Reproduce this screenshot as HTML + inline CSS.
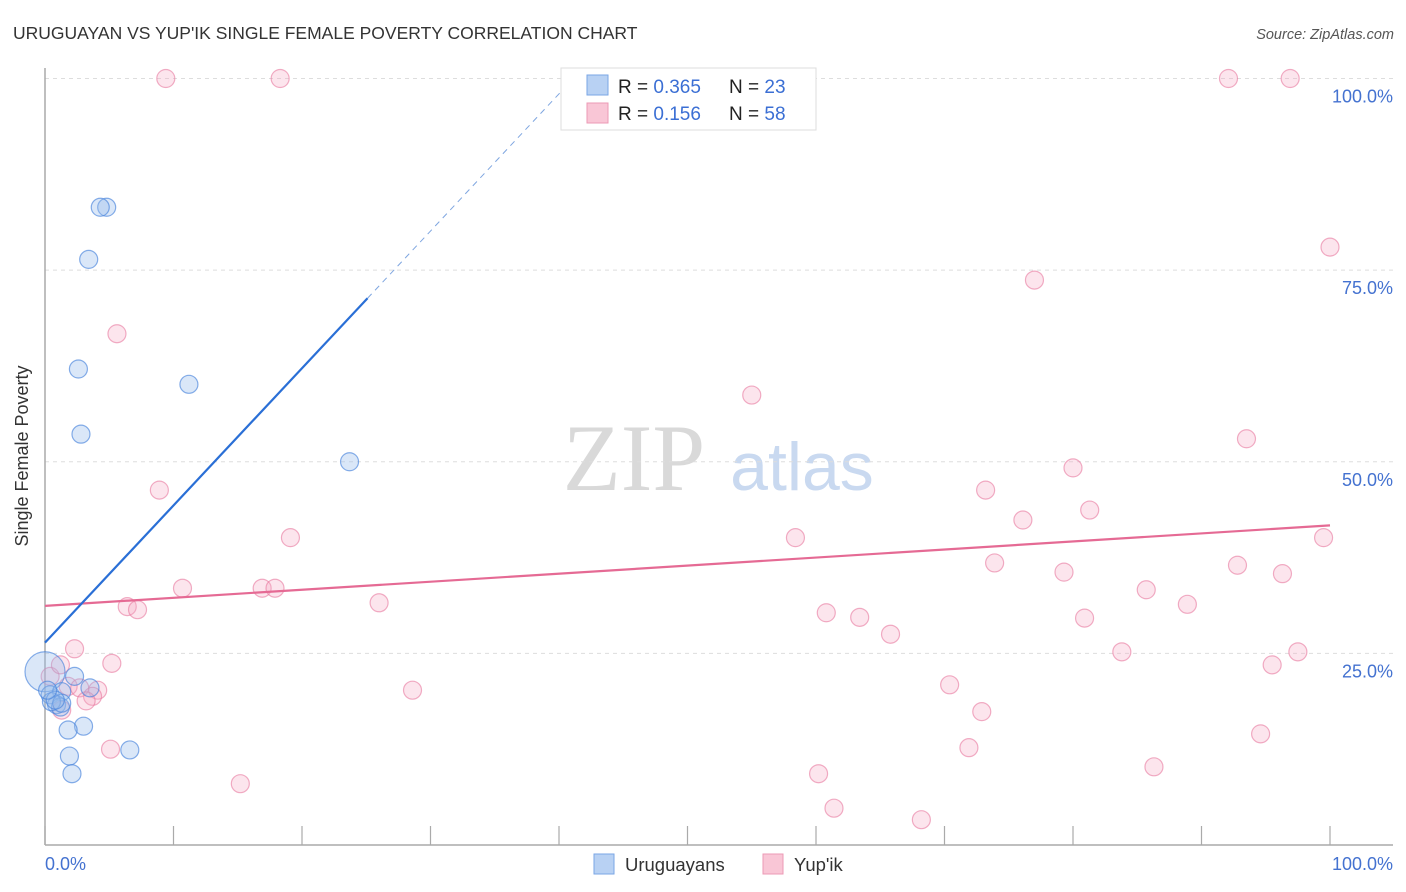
<!DOCTYPE html>
<html><head><meta charset="utf-8"><style>
body{margin:0;background:#fff;font-family:"Liberation Sans",sans-serif}
svg{display:block}
</style></head><body>
<svg id="chart" width="1406" height="892" font-family="Liberation Sans, sans-serif">
<text x="13" y="39" font-size="17.5" fill="#333">URUGUAYAN VS YUP'IK SINGLE FEMALE POVERTY CORRELATION CHART</text>
<text x="1394" y="39" font-size="14.5" fill="#555" font-style="italic" text-anchor="end">Source: ZipAtlas.com</text>
<text x="28" y="456" font-size="18" fill="#333" text-anchor="middle" transform="rotate(-90 28 456)">Single Female Poverty</text>
<g>
<text x="634" y="490" font-size="95" font-family="Liberation Serif, serif" fill="#d9d9d9" text-anchor="middle">ZIP</text>
<text x="802" y="490" font-size="68" fill="#c9d9f0" text-anchor="middle">atlas</text>
</g>
<g id="grid"></g>
<g id="axes"></g>
<g id="marks"></g>
<g>
<rect x="561" y="68" width="255" height="62" fill="#fff" stroke="#ddd"/>
<rect x="587" y="75" width="21" height="20" fill="#b8d1f3" stroke="#7aa6e6"/>
<rect x="587" y="103" width="21" height="20" fill="#f9c6d6" stroke="#ec9ab5"/>
<text x="618" y="93" font-size="19" fill="#222">R = <tspan fill="#3b6fd4">0.365</tspan></text>
<text x="729" y="93" font-size="19" fill="#222">N = <tspan fill="#3b6fd4">23</tspan></text>
<text x="618" y="120" font-size="19" fill="#222">R = <tspan fill="#3b6fd4"> 0.156</tspan></text>
<text x="729" y="120" font-size="19" fill="#222">N = <tspan fill="#3b6fd4">58</tspan></text>
</g>
<g>
<rect x="594" y="854" width="20" height="20" fill="#b8d1f3" stroke="#7aa6e6"/>
<text x="625" y="871" font-size="18.5" fill="#333">Uruguayans</text>
<rect x="763" y="854" width="20" height="20" fill="#f9c6d6" stroke="#ec9ab5"/>
<text x="794" y="871" font-size="18.5" fill="#333">Yup'ik</text>
</g>
</svg>
<script>
const blueX=[4.8,4.3,3.4,2.6,2.8,11.2,23.7,0,2.3,3.5,0.4,1.3,0.9,1.2,0.5,1.3,3.0,1.8,1.9,6.6,2.1,0.8,0.2];
const blueY=[83.2,83.2,76.4,62.1,53.6,60.1,50.0,22.6,22.0,20.5,19.6,20.0,18.3,18.0,18.7,18.5,15.5,15.0,11.6,12.4,9.3,18.9,20.2];
const blueR=[9,9,9,9,9,9,9,20,9,9,9,9,9,9,9,9,9,9,9,9,9,9,9];
const pinkX=[9.4,18.3,92.1,96.9,100,77.0,5.6,55.0,93.5,80.0,8.9,73.2,81.3,76.1,19.1,58.4,99.5,73.9,79.3,10.7,16.9,17.9,92.8,96.3,85.7,6.4,7.2,26.0,88.9,60.8,63.4,80.9,65.8,2.3,83.8,97.5,5.2,95.5,0.4,1.8,2.7,4.1,28.6,3.7,3.2,70.4,72.9,1.3,5.1,71.9,94.6,60.2,86.3,15.2,61.4,68.2,1.2,50];
const pinkY=[100,100,100,100,78.0,73.7,66.7,58.7,53.0,49.2,46.3,46.3,43.7,42.4,40.1,40.1,40.1,36.8,35.6,33.5,33.5,33.5,36.5,35.4,33.3,31.1,30.7,31.6,31.4,30.3,29.7,29.6,27.5,25.6,25.2,25.2,23.7,23.5,22.0,20.7,20.5,20.2,20.2,19.4,18.8,20.9,17.4,17.6,12.5,12.7,14.5,9.3,10.2,8.0,4.8,3.3,23.5,100];
const blueTrend=[26.4,1.79,25.1];
const pinkTrend=[31.2,41.7];
const yTicks=[25,50,75,100];
const yTickLabels=["25.0%","50.0%","75.0%","100.0%"];
const xTicks=[0,10,20,30,40,50,60,70,80,90,100];
const xTickLabels=["0.0%","100.0%"];

const X=v=>45+v*12.85;
const Y=v=>845-v*7.665;
const NS="http://www.w3.org/2000/svg";
function mk(tag,attrs,parent){const e=document.createElementNS(NS,tag);for(const k in attrs)e.setAttribute(k,attrs[k]);parent.appendChild(e);return e;}
const grid=document.getElementById('grid'),axes=document.getElementById('axes'),marks=document.getElementById('marks');
yTicks.forEach((t,i)=>{
 const l=mk('line',{x1:45,x2:1393,y1:Y(t),y2:Y(t),stroke:'#ddd','stroke-dasharray':'4,4'},grid);
 
 
 const tx=mk('text',{x:1393,y:Y(t)+24,'font-size':18,fill:'#4472d0','text-anchor':'end'},axes);
 tx.textContent=yTickLabels[i];
 
 
});
const ya=mk('line',{x1:45,x2:45,y1:68,y2:845,stroke:'#aaa','stroke-width':1.5},axes);


const xa=mk('line',{x1:45,x2:1393,y1:845,y2:845,stroke:'#aaa','stroke-width':1.5},axes);


xTicks.forEach(t=>{
 const l=mk('line',{x1:X(t),x2:X(t),y1:826,y2:845,stroke:'#aaa','stroke-width':1.2},axes);
 
 
});
const xl0=mk('text',{x:45,y:870,'font-size':18,fill:'#4472d0'},axes);xl0.textContent=xTickLabels[0];


const xl1=mk('text',{x:1393,y:870,'font-size':18,fill:'#4472d0','text-anchor':'end'},axes);xl1.textContent=xTickLabels[1];



pinkX.forEach((x,i)=>{
 const c=mk('circle',{cx:X(x),cy:Y(pinkY[i]),r:(x===0?20:9),fill:'rgba(246,170,195,0.3)',stroke:'rgba(232,120,158,0.6)','stroke-width':1.2},marks);
 
 
});
blueX.forEach((x,i)=>{
 const c=mk('circle',{cx:X(x),cy:Y(blueY[i]),r:blueR[i],fill:'rgba(150,185,235,0.35)',stroke:'rgba(70,130,220,0.65)','stroke-width':1.2},marks);
 
 
});
const pl=mk('line',{x1:X(0),y1:Y(pinkTrend[0]),x2:X(100),y2:Y(pinkTrend[1]),stroke:'#e56a94','stroke-width':2.2},marks);


const bEnd=blueTrend[2], bTop=(100-blueTrend[0])/blueTrend[1];
const bl=mk('line',{x1:X(0),y1:Y(blueTrend[0]),x2:X(bEnd),y2:Y(blueTrend[0]+blueTrend[1]*bEnd),stroke:'#2a6fd6','stroke-width':2.2},marks);


const bd=mk('line',{x1:X(bEnd),y1:Y(blueTrend[0]+blueTrend[1]*bEnd),x2:X(bTop),y2:Y(100),stroke:'#7fa6e0','stroke-width':1,'stroke-dasharray':'6,5'},marks);


</script>
</body></html>
